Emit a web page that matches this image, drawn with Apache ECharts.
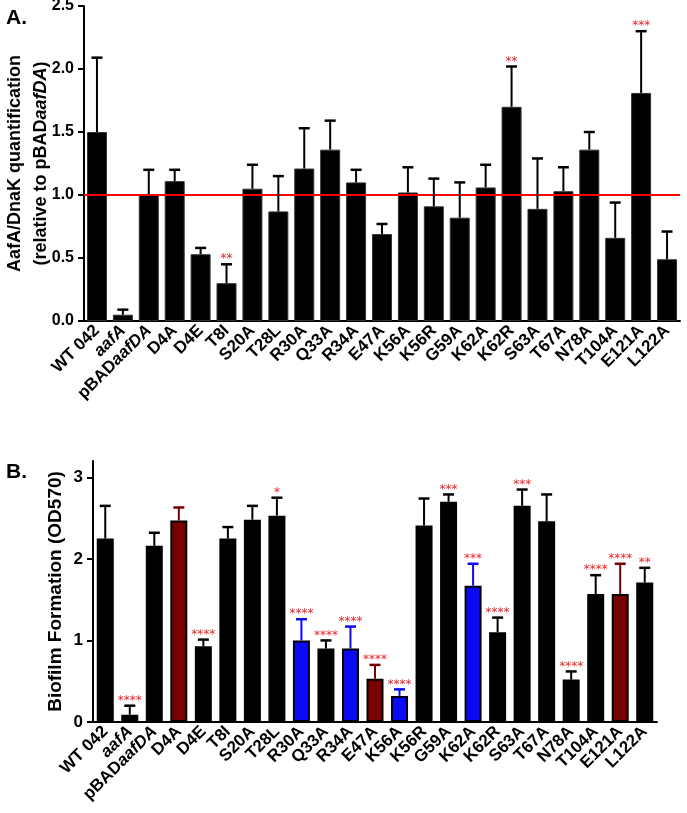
<!DOCTYPE html>
<html>
<head>
<meta charset="utf-8">
<script src="https://cdn.jsdelivr.net/npm/echarts@6/dist/echarts.min.js"></script>
<style>
  html, body { margin: 0; padding: 0; background: #fff; }
  #chart { width: 687px; height: 813px; }
</style>
</head>
<body>
<div id="chart"></div>
<script>
// strains on both panels
const strains = ['WT 042', 'aafA', 'pBADaafDA', 'D4A', 'D4E', 'T8I', 'S20A', 'T28L', 'R30A', 'Q33A', 'R34A',
  'E47A', 'K56A', 'K56R', 'G59A', 'K62A', 'K62R', 'S63A', 'T67A', 'N78A', 'T104A', 'E121A', 'L122A']

// A. AafA/DnaK quantification (relative to pBADaafDA)
const quantMean = [1.50, 0.05, 1.00, 1.11, 0.53, 0.30, 1.05, 0.87, 1.21, 1.36, 1.10,
  0.69, 1.02, 0.91, 0.82, 1.06, 1.70, 0.89, 1.03, 1.36, 0.66, 1.81, 0.49]
const quantErr = [0.59, 0.04, 0.20, 0.09, 0.05, 0.15, 0.19, 0.28, 0.32, 0.23, 0.10,
  0.08, 0.20, 0.22, 0.28, 0.18, 0.32, 0.40, 0.19, 0.14, 0.28, 0.49, 0.22]
const quantSig = ['', '', '', '', '', '**', '', '', '', '', '',
  '', '', '', '', '', '**', '', '', '', '', '***', '']
const refLevel = 1.0

// B. Biofilm formation (OD570)
const biofilmMean = [2.25, 0.09, 2.16, 2.47, 0.93, 2.25, 2.48, 2.53, 1.00, 0.90, 0.90,
  0.53, 0.32, 2.41, 2.70, 1.67, 1.10, 2.65, 2.46, 0.52, 1.57, 1.57, 1.71]
const biofilmErr = [0.40, 0.11, 0.16, 0.16, 0.08, 0.14, 0.17, 0.22, 0.26, 0.10, 0.27,
  0.17, 0.08, 0.33, 0.09, 0.27, 0.18, 0.20, 0.33, 0.10, 0.23, 0.37, 0.18]
const biofilmSig = ['', '****', '', '', '****', '', '', '*', '****', '****', '****',
  '****', '****', '', '***', '***', '****', '***', '', '****', '****', '****', '**']
const biofilmTicks = [0, 1, 2, 3]
const blueStrains = ['R30A', 'R34A', 'K56A', 'K62A']
const redStrains = ['D4A', 'E47A', 'E121A']

const FONT = '"Liberation Sans", Arial, sans-serif'
const BLUE = '#0a0af5'
const DARKRED = '#780000'
const STAR = '#e8252b'

const colorB = name => blueStrains.includes(name) ? BLUE : redStrains.includes(name) ? DARKRED : '#000'

const labelFmt = v => v === 'aafA' ? '{i|aafA}' : v === 'pBADaafDA' ? 'pBAD{i|aafDA}' : v

const xAxisFor = (gridIndex, size) => ({
  type: 'category', data: strains, gridIndex,
  axisLine: { lineStyle: { color: '#000', width: 2 } },
  axisTick: { alignWithLabel: true, length: 7, lineStyle: { width: 2, color: '#000' } },
  axisLabel: {
    rotate: 45, interval: 0, margin: 7, color: '#000', fontWeight: 'bold', fontSize: size, fontFamily: FONT,
    formatter: labelFmt,
    rich: { i: { fontStyle: 'italic', fontWeight: 'bold', fontSize: size, fontFamily: FONT, color: '#000' } },
  },
})

const errorSeries = (xIdx, mean, err, sig, colorFn) => ({
  type: 'custom', xAxisIndex: xIdx, yAxisIndex: xIdx, z: 5,
  data: strains.map((s, i) => [i, mean[i], err[i]]),
  renderItem: (params, api) => {
    const i = api.value(0)
    const p0 = api.coord([i, api.value(1)])
    const p1 = api.coord([i, api.value(1) + api.value(2)])
    const c = colorFn(strains[i])
    return {
      type: 'group',
      children: [
        { type: 'line', shape: { x1: p0[0], y1: p0[1], x2: p1[0], y2: p1[1] }, style: { stroke: c, lineWidth: 2 } },
        { type: 'line', shape: { x1: p1[0] - 5.5, y1: p1[1], x2: p1[0] + 5.5, y2: p1[1] }, style: { stroke: c, lineWidth: 2.5 } },
        { type: 'text', style: { text: sig[i], x: p1[0], y: p1[1] - 5, align: 'center', verticalAlign: 'middle',
          fill: STAR, fontSize: 12, fontFamily: 'DejaVu Sans' } },
      ],
    }
  },
})

const chart = echarts.init(document.getElementById('chart'), null, { renderer: 'canvas' })

chart.setOption({
  animation: false,
  title: [
    { text: 'A.', left: 1, top: 3, textStyle: { fontSize: 21, fontWeight: 'bold', fontFamily: FONT, color: '#000' } },
    { text: 'B.', left: 1, top: 457, textStyle: { fontSize: 21, fontWeight: 'bold', fontFamily: FONT, color: '#000' } },
  ],
  grid: [
    { left: 84, right: 7, top: 6, height: 315, outerBoundsMode: 'none', containLabel: false },
    { left: 93, right: 30, top: 461, height: 261, outerBoundsMode: 'none', containLabel: false },
  ],
  xAxis: [xAxisFor(0, 17), xAxisFor(1, 17)],
  yAxis: [
    {
      type: 'value', gridIndex: 0, min: 0, max: 2.5, interval: 0.5,
      name: '{a|AafA/DnaK quantification}\n{a|(relative to pBAD}{i|aafDA}{a|)}',
      nameLocation: 'middle', nameRotate: 90, nameGap: 30, nameMoveOverlap: false,
      nameTextStyle: {
        lineHeight: 26,
        rich: {
          a: { fontSize: 18, fontWeight: 'bold', fontFamily: FONT, color: '#000', lineHeight: 26 },
          i: { fontSize: 18, fontWeight: 'bold', fontStyle: 'italic', fontFamily: FONT, color: '#000', lineHeight: 26 },
        },
      },
      axisLine: { show: true, lineStyle: { color: '#000', width: 2 } },
      axisTick: { show: true, length: 6, lineStyle: { width: 2, color: '#000' } },
      axisLabel: { margin: 10, color: '#000', fontWeight: 'bold', fontSize: 16, fontFamily: FONT,
        formatter: v => v.toFixed(1) },
      splitLine: { show: false },
    },
    {
      type: 'value', gridIndex: 1, min: 0, max: 3.2,
      name: 'Biofilm Formation (OD570)',
      nameLocation: 'middle', nameRotate: 90, nameGap: 28, nameMoveOverlap: false,
      nameTextStyle: { fontSize: 19, fontWeight: 'bold', fontFamily: FONT, color: '#000' },
      axisLine: { show: true, lineStyle: { color: '#000', width: 2 } },
      axisTick: { show: true, length: 6, customValues: biofilmTicks, lineStyle: { width: 2, color: '#000' } },
      axisLabel: { margin: 10, color: '#000', fontWeight: 'bold', fontSize: 17, fontFamily: FONT,
        customValues: biofilmTicks },
      splitLine: { show: false },
    },
  ],
  series: [
    {
      type: 'bar', xAxisIndex: 0, yAxisIndex: 0, barWidth: 20,
      data: quantMean,
      itemStyle: { color: '#000', borderColor: '#333', borderWidth: 1 },
      markLine: {
        silent: true, symbol: 'none', label: { show: false },
        lineStyle: { color: '#ff0000', width: 2, type: 'solid' },
        data: [{ yAxis: refLevel }],
      },
    },
    errorSeries(0, quantMean, quantErr, quantSig, () => '#000'),
    {
      type: 'bar', xAxisIndex: 1, yAxisIndex: 1, barWidth: 17,
      data: biofilmMean.map((v, i) => ({
        value: v,
        itemStyle: { color: colorB(strains[i]), borderColor: '#000', borderWidth: 2 },
      })),
    },
    errorSeries(1, biofilmMean, biofilmErr, biofilmSig, colorB),
  ],
})

window.addEventListener('resize', () => chart.resize())
</script>
</body>
</html>
